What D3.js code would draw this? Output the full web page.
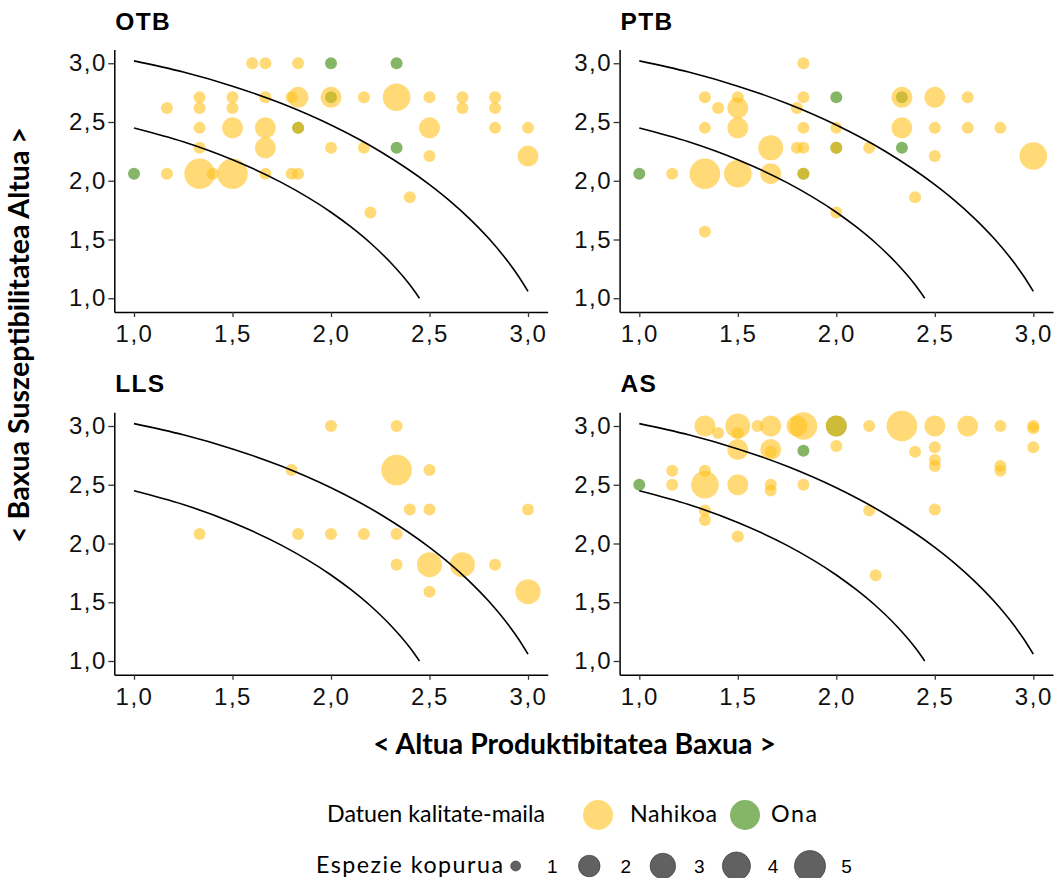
<!DOCTYPE html>
<html>
<head>
<meta charset="utf-8">
<script src="https://cdn.jsdelivr.net/npm/d3@7"></script>
<style>
  body { margin: 0; background: #fff; }
</style>
</head>
<body>
<svg id="chart" width="1056" height="878"></svg>
<script>
// points: [x, y, species count, quality]  (N = Nahikoa, O = Ona)
const otbPoints = [
  [1.6, 3.0, 1, "N"], [1.667, 3.0, 1, "N"], [1.833, 3.0, 1, "N"], [2.0, 3.0, 1, "O"], [2.333, 3.0, 1, "O"],
  [1.333, 2.71, 1, "N"], [1.5, 2.71, 1, "N"], [1.667, 2.71, 1, "N"], [1.8, 2.71, 1, "N"], [1.833, 2.71, 2, "N"],
  [2.0, 2.71, 2, "N"], [2.0, 2.71, 1, "O"], [2.167, 2.71, 1, "N"], [2.333, 2.71, 4, "N"], [2.5, 2.71, 1, "N"],
  [2.667, 2.71, 1, "N"], [2.833, 2.71, 1, "N"],
  [1.167, 2.62, 1, "N"], [1.333, 2.62, 1, "N"], [1.5, 2.62, 1, "N"], [2.667, 2.62, 1, "N"], [2.833, 2.62, 1, "N"],
  [1.333, 2.45, 1, "N"], [1.5, 2.45, 2, "N"], [1.667, 2.45, 2, "N"], [1.833, 2.45, 1, "N"], [1.833, 2.45, 1, "O"],
  [2.5, 2.45, 2, "N"], [2.833, 2.45, 1, "N"], [3.0, 2.45, 1, "N"],
  [1.333, 2.28, 1, "N"], [1.667, 2.28, 2, "N"], [2.0, 2.28, 1, "N"], [2.167, 2.28, 1, "N"], [2.333, 2.28, 1, "O"],
  [2.5, 2.21, 1, "N"], [3.0, 2.21, 2, "N"],
  [1.0, 2.06, 1, "O"], [1.167, 2.06, 1, "N"], [1.333, 2.06, 5, "N"], [1.4, 2.06, 1, "N"], [1.5, 2.06, 5, "N"],
  [1.667, 2.06, 1, "N"], [1.8, 2.06, 1, "N"], [1.833, 2.06, 1, "N"],
  [2.4, 1.86, 1, "N"], [2.2, 1.73, 1, "N"]
];

const ptbPoints = [
  [1.833, 3.0, 1, "N"],
  [1.333, 2.71, 1, "N"], [1.5, 2.71, 1, "N"], [1.833, 2.71, 1, "N"], [2.0, 2.71, 1, "O"], [2.333, 2.71, 2, "N"],
  [2.333, 2.71, 1, "O"], [2.5, 2.71, 2, "N"], [2.667, 2.71, 1, "N"],
  [1.4, 2.62, 1, "N"], [1.5, 2.62, 2, "N"], [1.8, 2.62, 1, "N"],
  [1.333, 2.45, 1, "N"], [1.5, 2.45, 2, "N"], [1.833, 2.45, 1, "N"], [2.0, 2.45, 1, "N"], [2.333, 2.45, 2, "N"],
  [2.5, 2.45, 1, "N"], [2.667, 2.45, 1, "N"], [2.833, 2.45, 1, "N"],
  [1.667, 2.28, 3, "N"], [1.8, 2.28, 1, "N"], [1.833, 2.28, 1, "N"], [2.0, 2.28, 1, "N"], [2.0, 2.28, 1, "O"],
  [2.167, 2.28, 1, "N"], [2.333, 2.28, 1, "O"],
  [2.5, 2.21, 1, "N"], [3.0, 2.21, 4, "N"],
  [1.0, 2.06, 1, "O"], [1.167, 2.06, 1, "N"], [1.333, 2.06, 5, "N"], [1.5, 2.06, 4, "N"], [1.667, 2.06, 2, "N"],
  [1.833, 2.06, 1, "N"], [1.833, 2.06, 1, "O"],
  [2.4, 1.86, 1, "N"], [2.0, 1.73, 1, "N"], [1.333, 1.565, 1, "N"]
];

const llsPoints = [
  [2.0, 3.0, 1, "N"], [2.333, 3.0, 1, "N"],
  [1.8, 2.625, 1, "N"], [2.333, 2.625, 5, "N"], [2.5, 2.625, 1, "N"],
  [2.4, 2.29, 1, "N"], [2.5, 2.29, 1, "N"], [3.0, 2.29, 1, "N"],
  [1.333, 2.08, 1, "N"], [1.833, 2.08, 1, "N"], [2.0, 2.08, 1, "N"], [2.167, 2.08, 1, "N"], [2.333, 2.08, 1, "N"],
  [2.333, 1.82, 1, "N"], [2.5, 1.82, 3, "N"], [2.667, 1.82, 3, "N"], [2.833, 1.82, 1, "N"],
  [2.5, 1.59, 1, "N"], [3.0, 1.59, 3, "N"]
];

const asPoints = [
  [1.333, 3.0, 2, "N"], [1.4, 2.94, 1, "N"], [1.5, 3.0, 3, "N"], [1.5, 2.94, 1, "N"], [1.6, 3.0, 1, "N"],
  [1.667, 3.0, 2, "N"], [1.8, 3.0, 2, "N"], [1.833, 3.0, 4, "N"], [2.0, 3.0, 2, "O"], [2.0, 3.0, 2, "N"],
  [2.167, 3.0, 1, "N"], [2.333, 3.0, 5, "N"], [2.5, 3.0, 2, "N"], [2.667, 3.0, 2, "N"], [2.833, 3.0, 1, "N"],
  [3.0, 3.0, 1, "N"], [3.0, 2.98, 1, "N"],
  [2.0, 2.83, 1, "N"], [2.5, 2.82, 1, "N"], [3.0, 2.82, 1, "N"],
  [1.5, 2.8, 2, "N"], [1.667, 2.8, 2, "N"], [1.667, 2.78, 1, "N"], [1.833, 2.79, 1, "O"], [2.4, 2.78, 1, "N"],
  [2.5, 2.71, 1, "N"], [2.5, 2.66, 1, "N"], [2.833, 2.66, 1, "N"], [2.833, 2.62, 1, "N"],
  [1.167, 2.62, 1, "N"], [1.333, 2.62, 1, "N"],
  [1.0, 2.5, 1, "O"], [1.167, 2.5, 1, "N"], [1.333, 2.5, 4, "N"], [1.5, 2.5, 2, "N"], [1.667, 2.5, 1, "N"],
  [1.667, 2.45, 1, "N"], [1.833, 2.5, 1, "N"],
  [1.333, 2.28, 1, "N"], [1.333, 2.2, 1, "N"], [2.167, 2.28, 1, "N"], [2.5, 2.29, 1, "N"],
  [1.5, 2.06, 1, "N"], [2.2, 1.73, 1, "N"]
];

// reference curves
const innerCurve = [
  [1.0, 2.449], [1.25, 2.332], [1.5, 2.179], [1.75, 1.984], [2.0, 1.732],
  [2.1, 1.609], [2.2, 1.470], [2.3, 1.308], [2.4, 1.114], [2.449, 1.0]
];
const outerCurve = [
  [1.0, 3.02], [1.25, 2.925], [1.5, 2.805], [1.75, 2.657], [2.0, 2.474], [2.25, 2.249],
  [2.5, 1.967], [2.6, 1.833], [2.7, 1.682], [2.8, 1.510], [2.9, 1.308], [2.95, 1.191], [3.0, 1.058]
];

const panelNames = ["OTB", "PTB", "LLS", "AS"];
const tickValues = [1.0, 1.5, 2.0, 2.5, 3.0];
const tickLabels = ["1,0", "1,5", "2,0", "2,5", "3,0"];
const qualityKeys = ["N", "O"];
const qualityLabels = ["Nahikoa", "Ona"];
const qualityColors = ["#FFC21A", "#348400"];
const sizeLevels = [1, 2, 3, 4, 5];

const svg = d3.select("#chart");
const tickFont = "'Liberation Sans', Arial, sans-serif";
const titleFont = "Lato, 'Open Sans', sans-serif";

const pw = 433.4, ph = 262.5;
const panels = [
  {name: panelNames[0], data: otbPoints, x0: 114.3, y0: 49.5},
  {name: panelNames[1], data: ptbPoints, x0: 619.6, y0: 49.5},
  {name: panelNames[2], data: llsPoints, x0: 114.3, y0: 412.25},
  {name: panelNames[3], data: asPoints, x0: 619.6, y0: 412.25}
];

const color = d3.scaleOrdinal().domain(qualityKeys).range(qualityColors);
const radius = d3.scaleOrdinal().domain(sizeLevels).range([6, 10.5, 12.5, 13.8, 15.3]);

const x = d3.scaleLinear().domain([0.9, 3.1]).range([0, pw]);
const y = d3.scaleLinear().domain([0.883, 3.117]).range([ph, 0]);

const line = d3.line()
  .x(d => x(d[0]))
  .y(d => y(d[1]))
  .curve(d3.curveMonotoneX);

panels.forEach(p => {
  const g = svg.append("g").attr("transform", `translate(${p.x0},${p.y0})`);

  // green under yellow, like the original
  const ordered = p.data.filter(d => d[3] === "O").concat(p.data.filter(d => d[3] === "N"));
  g.append("g")
    .selectAll("circle")
    .data(ordered)
    .join("circle")
    .attr("cx", d => x(d[0]))
    .attr("cy", d => y(d[1]))
    .attr("r", d => radius(d[2]))
    .attr("fill", d => color(d[3]))
    .attr("fill-opacity", 0.6);

  g.selectAll("path.curve")
    .data([innerCurve, outerCurve])
    .join("path")
    .attr("class", "curve")
    .attr("d", line)
    .attr("fill", "none")
    .attr("stroke", "#000")
    .attr("stroke-width", 1.6);

  const xAxis = g.append("g")
    .attr("transform", `translate(0,${ph})`)
    .call(d3.axisBottom(x).tickValues(tickValues).tickFormat((d, i) => tickLabels[i])
      .tickSize(5).tickSizeOuter(0).tickPadding(8));

  const yAxis = g.append("g")
    .call(d3.axisLeft(y).tickValues(tickValues).tickFormat((d, i) => tickLabels[i])
      .tickSize(6).tickSizeOuter(0).tickPadding(1.5));

  [xAxis, yAxis].forEach(a => {
    a.select(".domain").attr("stroke", "#000").attr("stroke-width", 1.5);
    a.selectAll(".tick line").attr("stroke", "#333").attr("stroke-width", 1.3);
    a.selectAll(".tick text")
      .attr("font-family", tickFont)
      .attr("font-size", 24)
      .attr("letter-spacing", 1.5)
      .attr("fill", "#111");
  });

  g.append("text")
    .attr("x", 1)
    .attr("y", -20)
    .attr("font-family", tickFont)
    .attr("font-weight", "bold")
    .attr("font-size", 24.5)
    .attr("letter-spacing", 1.3)
    .attr("fill", "#000")
    .text(p.name);
});

function fitWidth(text, target) {
  const w = text.node().getComputedTextLength();
  const fs = parseFloat(text.attr("font-size"));
  text.attr("font-size", fs * target / w);
}

// keep the font size, stretch the spacing to the wanted width
function fitSpacing(text, target) {
  const n = text.text().length;
  const w = text.node().getComputedTextLength();
  text.attr("letter-spacing", (target - w) / Math.max(1, n - 1));
}

// axis titles
const xTitle = svg.append("text")
  .attr("x", 574.5)
  .attr("y", 754)
  .attr("text-anchor", "middle")
  .attr("font-family", titleFont)
  .attr("font-weight", "bold")
  .attr("font-size", 24)
  .attr("fill", "#000")
  .text("< Altua Produktibitatea Baxua >");
fitWidth(xTitle, 403);

const yTitle = svg.append("text")
  .attr("transform", "translate(29,335) rotate(-90)")
  .attr("text-anchor", "middle")
  .attr("font-family", titleFont)
  .attr("font-weight", "bold")
  .attr("font-size", 24)
  .attr("fill", "#000")
  .text("< Baxua Suszeptibilitatea Altua >");
fitWidth(yTitle, 416);

// legend: quality
const legend = svg.append("g");
const qTitle = legend.append("text")
  .attr("x", 327)
  .attr("y", 822)
  .attr("font-family", titleFont)
  .attr("font-size", 20)
  .attr("fill", "#000")
  .text("Datuen kalitate-maila");
fitWidth(qTitle, 218);
const legendFs = qTitle.attr("font-size");

const qKeyX = d3.scaleOrdinal().domain(qualityKeys).range([598, 745]);
const qLabelX = d3.scaleOrdinal().domain(qualityKeys).range([630, 771]);
const qLabelW = [87, 46];

legend.selectAll("circle.q")
  .data(qualityKeys)
  .join("circle")
  .attr("class", "q")
  .attr("cx", d => qKeyX(d))
  .attr("cy", 815)
  .attr("r", 15)
  .attr("fill", d => color(d))
  .attr("fill-opacity", 0.6);

legend.selectAll("text.q")
  .data(qualityKeys)
  .join("text")
  .attr("class", "q")
  .attr("x", d => qLabelX(d))
  .attr("y", 822)
  .attr("font-family", titleFont)
  .attr("font-size", legendFs)
  .attr("fill", "#000")
  .text((d, i) => qualityLabels[i])
  .each(function (d, i) { fitSpacing(d3.select(this), qLabelW[i]); });

// legend: species count
const sTitle = legend.append("text")
  .attr("x", 316)
  .attr("y", 873)
  .attr("font-family", titleFont)
  .attr("font-size", legendFs)
  .attr("fill", "#000")
  .text("Espezie kopurua");
fitSpacing(sTitle, 187);

const sKeyX = d3.scalePoint().domain(sizeLevels).range([515.7, 810]);

legend.selectAll("circle.s")
  .data(sizeLevels)
  .join("circle")
  .attr("class", "s")
  .attr("cx", d => sKeyX(d))
  .attr("cy", 866)
  .attr("r", d => d === 1 ? 5 : radius(d) + 0.3)
  .attr("fill", "#000")
  .attr("fill-opacity", 0.62)
  .attr("stroke", "#333")
  .attr("stroke-width", 0.6);

legend.selectAll("text.s")
  .data(sizeLevels)
  .join("text")
  .attr("class", "s")
  .attr("x", d => sKeyX(d) + 36.5)
  .attr("y", 872.5)
  .attr("text-anchor", "middle")
  .attr("font-family", tickFont)
  .attr("font-size", 19)
  .attr("fill", "#000")
  .text(d => d);
</script>
</body>
</html>
